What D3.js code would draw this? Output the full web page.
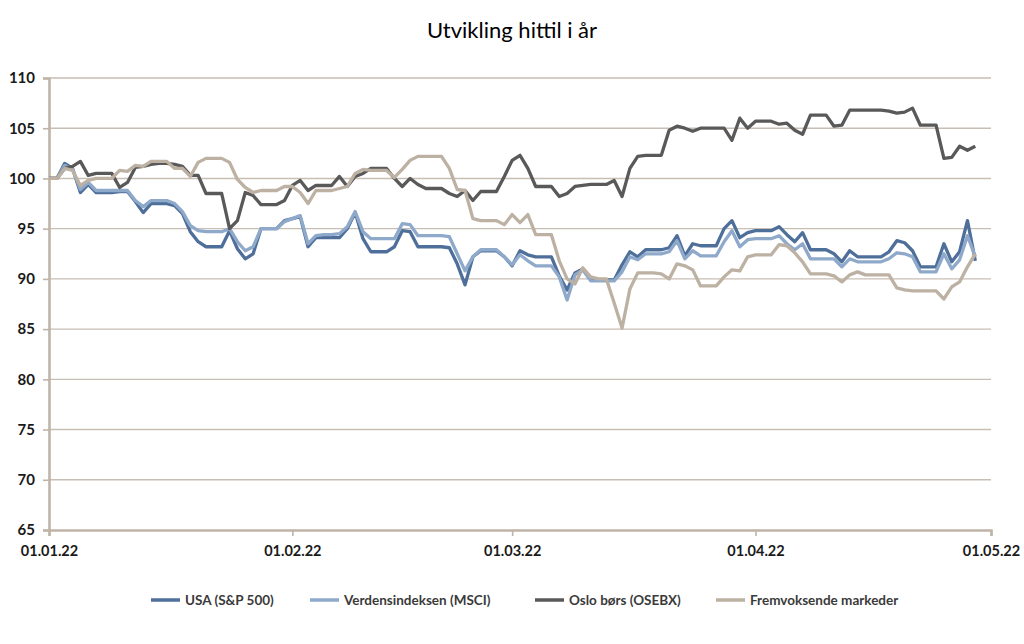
<!DOCTYPE html>
<html>
<head>
<meta charset="utf-8">
<script src="https://cdn.jsdelivr.net/npm/d3@7"></script>
<style>
  body { margin: 0; background: #fff; }
  svg { font-family: Lato, "Noto Sans", sans-serif; }
</style>
</head>
<body>
<div id="chart"></div>
<script>
var svgWidth = 1024;
var svgHeight = 644;

// one value per calendar day from 01.01.22 (weekends carry the Friday value)
var startDay = "2022-01-01";

var usa = [100,100,101.5,101.0,98.6,99.4,98.6,98.6,98.6,98.7,98.7,97.7,96.6,97.5,97.5,97.5,97.3,96.5,94.7,93.7,
  93.2,93.2,93.2,94.8,93.0,92.0,92.5,95.0,95.0,95.0,95.8,96.0,96.2,93.2,94.1,94.1,94.1,94.1,95.0,96.6,
  94.0,92.7,92.7,92.7,93.2,94.8,94.7,93.2,93.2,93.2,93.2,93.1,91.5,89.4,92.2,92.8,92.8,92.8,92.2,91.3,
  92.8,92.4,92.2,92.2,92.2,90.3,88.9,90.6,91.0,89.9,89.9,89.9,89.9,91.4,92.7,92.2,92.9,92.9,92.9,93.1,
  94.3,92.3,93.5,93.3,93.3,93.3,95.0,95.8,94.1,94.6,94.8,94.8,94.8,95.2,94.4,93.7,94.6,92.9,92.9,92.9,
  92.5,91.7,92.8,92.2,92.2,92.2,92.2,92.7,93.8,93.6,92.8,91.2,91.2,91.2,93.5,91.7,92.7,95.8,91.8];

var msci = [100,100,101.3,100.9,98.9,99.6,98.8,98.8,98.8,98.8,98.8,97.8,97.2,97.8,97.8,97.8,97.5,96.7,95.3,94.8,
  94.7,94.7,94.7,95.0,93.7,92.8,93.2,95.0,95.0,95.0,95.7,96.0,96.3,93.5,94.3,94.4,94.4,94.5,95.2,96.7,
  94.7,94.0,94.0,94.0,94.0,95.5,95.4,94.3,94.3,94.3,94.3,94.2,92.5,90.8,92.2,92.9,92.9,92.9,92.2,91.4,
  92.4,91.8,91.3,91.3,91.3,90.2,87.9,90.4,90.9,89.8,89.8,89.8,89.8,90.7,92.2,91.9,92.5,92.5,92.5,92.7,
  93.8,92.0,92.8,92.3,92.3,92.3,93.7,94.8,93.2,93.9,94.0,94.0,94.0,94.3,93.5,92.9,93.5,92.0,92.0,92.0,
  92.0,91.2,92.0,91.7,91.7,91.7,91.7,92.0,92.6,92.5,92.2,90.7,90.7,90.7,92.5,91.0,91.9,94.3,92.2];

var osebx = [100,100,101.0,101.2,101.7,100.3,100.5,100.5,100.5,99.1,99.6,101.1,101.2,101.4,101.5,101.5,101.4,101.2,100.3,100.3,
  98.5,98.5,98.5,95.0,95.8,98.6,98.3,97.4,97.4,97.4,97.8,99.3,99.8,98.8,99.3,99.3,99.3,100.2,99.2,100.2,
  100.5,101.0,101.0,101.0,100.0,99.2,100.0,99.4,99.0,99.0,99.0,98.5,98.2,98.8,97.8,98.7,98.7,98.7,100.2,101.8,
  102.3,101.0,99.2,99.2,99.2,98.2,98.5,99.2,99.3,99.4,99.4,99.4,99.8,98.2,101.0,102.2,102.3,102.3,102.3,104.8,
  105.2,105.0,104.7,105.0,105.0,105.0,105.0,103.8,106.0,105.0,105.7,105.7,105.7,105.4,105.5,104.8,104.4,106.3,106.3,106.3,
  105.2,105.3,106.8,106.8,106.8,106.8,106.8,106.7,106.5,106.6,107.0,105.3,105.3,105.3,102.0,102.1,103.2,102.8,103.2];

var emerging = [100,100,101.0,100.8,99.3,99.8,100.0,100.0,100.0,100.8,100.7,101.3,101.2,101.7,101.7,101.7,101.0,101.0,100.2,101.6,
  102.0,102.0,102.0,101.6,99.9,99.1,98.6,98.8,98.8,98.8,99.2,99.2,98.6,97.5,98.8,98.8,98.8,99.0,99.2,100.5,
  100.9,100.8,100.8,100.8,100.1,100.9,101.8,102.2,102.2,102.2,102.2,101.0,98.9,98.8,96.0,95.8,95.8,95.8,95.4,96.4,
  95.6,96.4,94.4,94.4,94.4,91.8,90.0,89.5,91.1,90.2,90.0,90.0,87.6,85.1,89.0,90.6,90.6,90.6,90.5,90.0,
  91.5,91.3,90.9,89.3,89.3,89.3,90.2,90.9,90.8,92.2,92.4,92.4,92.4,93.4,93.3,92.6,91.7,90.5,90.5,90.5,
  90.3,89.7,90.4,90.7,90.4,90.4,90.4,90.4,89.1,88.9,88.8,88.8,88.8,88.8,88.0,89.2,89.7,91.2,92.5];

var seriesNames = ["USA (S&P 500)", "Verdensindeksen (MSCI)", "Oslo børs (OSEBX)", "Fremvoksende markeder"];
var seriesColors = ["#4F6F9B", "#8FA9CA", "#595959", "#BDB1A3"];
var yTicks = [65, 70, 75, 80, 85, 90, 95, 100, 105, 110];
var xTicks = ["2022-01-01", "2022-02-01", "2022-03-01", "2022-04-01", "2022-05-01"];

var margin = { top: 78, right: 33, bottom: 114, left: 49 };
var width = svgWidth - margin.left - margin.right;
var height = svgHeight - margin.top - margin.bottom;

var parseDay = d3.utcParse("%Y-%m-%d");
var day0 = parseDay(startDay);
var allSeries = [usa, msci, osebx, emerging].map(function(vals) {
  return vals.map(function(v, i) { return { date: d3.utcDay.offset(day0, i), value: v }; });
});

var svg = d3.select("#chart")
  .append("svg")
  .attr("width", svgWidth)
  .attr("height", svgHeight);

svg.append("text")
  .attr("x", svgWidth / 2)
  .attr("y", 38)
  .attr("text-anchor", "middle")
  .attr("font-size", "22px")
  .attr("fill", "#000")
  .text("Utvikling hittil i år");

var chartGroup = svg.append("g")
  .attr("transform", `translate(${margin.left}, ${margin.top})`);

var xScale = d3.scaleUtc()
  .domain([parseDay(xTicks[0]), parseDay(xTicks[xTicks.length - 1])])
  .range([0, width]);

var yScale = d3.scaleLinear()
  .domain([65, 110])
  .range([height, 0]);

// gridlines
chartGroup.append("g")
  .selectAll("line")
  .data(yTicks.slice(1))
  .enter()
  .append("line")
  .attr("x1", 0)
  .attr("x2", width)
  .attr("y1", d => yScale(d))
  .attr("y2", d => yScale(d))
  .attr("stroke", "#C8BEB3")
  .attr("stroke-width", 1.4);

var leftAxis = d3.axisLeft(yScale).tickValues(yTicks).tickSize(6).tickPadding(8);
var bottomAxis = d3.axisBottom(xScale)
  .tickValues(xTicks.map(parseDay))
  .tickSize(6)
  .tickPadding(10)
  .tickFormat(d3.utcFormat("%d.%m.%y"));

var yAxisG = chartGroup.append("g").call(leftAxis);
var xAxisG = chartGroup.append("g")
  .attr("transform", `translate(0, ${height})`)
  .call(bottomAxis);

[yAxisG, xAxisG].forEach(function(g) {
  g.select(".domain").attr("stroke", "#BFB4A8").attr("stroke-width", 2.6);
  g.selectAll(".tick line").attr("stroke", "#BFB4A8").attr("stroke-width", 1.6);
  g.selectAll(".tick text")
    .attr("fill", "#1a1a1a")
    .attr("font-family", "Lato, sans-serif")
    .attr("font-weight", "bold");
});
yAxisG.selectAll(".tick text").attr("font-size", "15px");
xAxisG.selectAll(".tick text").attr("font-size", "14.5px");

var line = d3.line()
  .x(d => xScale(d.date))
  .y(d => yScale(d.value));

chartGroup.selectAll(".series")
  .data(allSeries)
  .enter()
  .append("path")
  .attr("class", "series")
  .attr("d", d => line(d))
  .attr("fill", "none")
  .attr("stroke", (d, i) => seriesColors[i])
  .attr("stroke-width", 3.3)
  .attr("stroke-linejoin", "round");

// legend
var legendX = [151, 310, 535, 716];
var legend = svg.append("g").attr("transform", "translate(0, 600)");
var items = legend.selectAll("g")
  .data(seriesNames)
  .enter()
  .append("g")
  .attr("transform", (d, i) => `translate(${legendX[i]}, 0)`);

items.append("line")
  .attr("x1", 0)
  .attr("x2", 29)
  .attr("stroke", (d, i) => seriesColors[i])
  .attr("stroke-width", 3.5);

items.append("text")
  .attr("x", 34)
  .attr("y", 5)
  .attr("font-size", "13.5px")
  .attr("font-weight", "bold")
  .attr("fill", "#3a3a3a")
  .text(d => d);
</script>
</body>
</html>
